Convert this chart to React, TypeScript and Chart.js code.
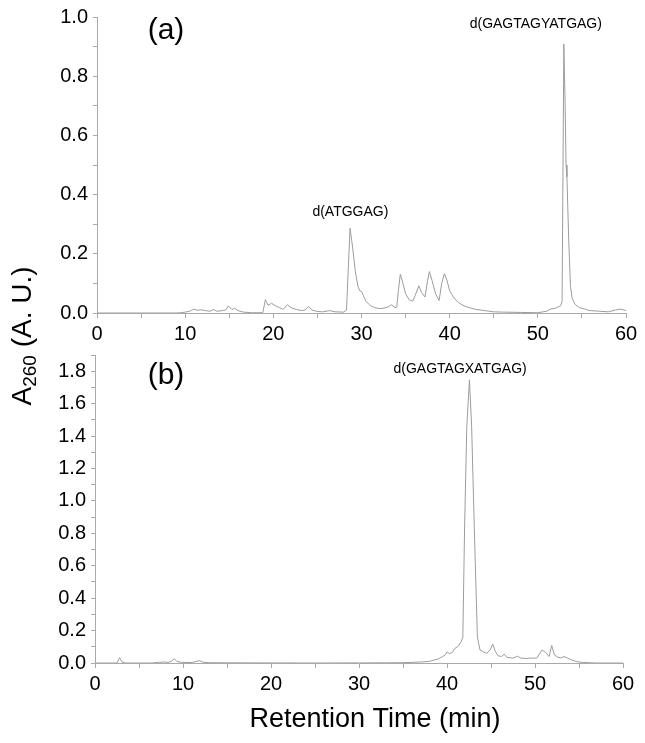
import React, { useEffect, useRef } from 'react';
import { Chart, registerables } from 'chart.js';
Chart.register(...registerables);

// ---------- data ----------
const timesA = [0, 5, 9.0, 9.5, 10.0, 10.5, 11.0, 11.4, 11.8, 12.3, 12.8, 13.2, 13.6, 14.2, 14.6, 14.9, 15.3, 15.6, 16.0, 16.6, 17.5, 18.8, 19.1, 19.4, 19.8, 20.2, 20.7, 21.1, 21.6, 22.0, 22.6, 23.2, 23.6, 24.0, 24.4, 25.0, 25.6, 26.4, 27.0, 28.0, 28.3, 28.5, 28.7, 29.0, 29.3, 29.6, 29.8, 30.0, 30.2, 30.5, 31.0, 31.5, 32.0, 32.5, 33.0, 33.4, 33.8, 34.0, 34.2, 34.4, 34.7, 35.0, 35.4, 35.8, 36.1, 36.5, 36.8, 37.2, 37.5, 37.7, 38.0, 38.4, 38.8, 39.1, 39.4, 39.7, 40.0, 40.5, 41.0, 41.5, 42.0, 43.0, 44.0, 45.0, 46.0, 48.0, 50.0, 51.0, 51.5, 52.0, 52.6, 52.75, 52.95, 53.1, 53.2, 53.3, 53.5, 53.7, 53.9, 54.2, 54.7, 55.3, 55.6, 56.0, 57.0, 58.0, 58.8, 59.3, 59.8, 60.0];
const absA = [0, 0, 0, 0.001, 0.003, 0.006, 0.013, 0.009, 0.011, 0.008, 0.006, 0.012, 0.006, 0.008, 0.01, 0.024, 0.012, 0.016, 0.008, 0.003, 0.001, 0.001, 0.045, 0.026, 0.033, 0.025, 0.018, 0.012, 0.028, 0.018, 0.012, 0.008, 0.01, 0.022, 0.01, 0.005, 0.004, 0.008, 0.004, 0.003, 0.01, 0.15, 0.286, 0.22, 0.14, 0.09, 0.075, 0.073, 0.06, 0.04, 0.025, 0.018, 0.015, 0.016, 0.02, 0.028, 0.018, 0.02, 0.08, 0.131, 0.1, 0.065, 0.045, 0.04, 0.06, 0.092, 0.07, 0.054, 0.11, 0.14, 0.11, 0.065, 0.042, 0.1, 0.133, 0.11, 0.075, 0.05, 0.035, 0.026, 0.02, 0.012, 0.008, 0.004, 0.003, 0.002, 0.001, 0.006, 0.014, 0.016, 0.025, 0.04, 0.909, 0.7, 0.5, 0.46, 0.25, 0.09, 0.05, 0.03, 0.018, 0.014, 0.01, 0.008, 0.006, 0.004, 0.01, 0.013, 0.01, 0.008];

const timesB = [0, 2.5, 2.8, 3.1, 3.5, 6.5, 7.2, 7.8, 8.3, 8.7, 9.0, 9.3, 9.8, 11.0, 11.9, 12.3, 13.0, 15.0, 25.0, 33.0, 35.0, 37.0, 38.0, 39.0, 39.5, 39.8, 40.0, 40.3, 40.6, 40.9, 41.3, 41.6, 41.8, 42.0, 42.25, 42.55, 42.8, 43.1, 43.45, 43.75, 44.1, 44.5, 44.9, 45.2, 45.5, 45.8, 46.2, 46.5, 46.8, 47.5, 48.0, 48.4, 49.0, 49.5, 50.2, 50.8, 51.2, 51.6, 51.9, 52.2, 52.6, 53.0, 53.3, 53.7, 54.2, 54.8, 55.5, 57.0, 60.0];
const absB = [0, 0, 0.033, 0.004, 0, 0, 0.004, 0.006, 0.004, 0.01, 0.027, 0.01, 0.004, 0.003, 0.015, 0.004, 0.002, 0.001, 0, 0.001, 0.002, 0.006, 0.01, 0.025, 0.04, 0.05, 0.068, 0.058, 0.065, 0.09, 0.105, 0.13, 0.16, 0.84, 1.46, 1.747, 1.46, 0.84, 0.16, 0.08, 0.07, 0.06, 0.08, 0.116, 0.07, 0.045, 0.04, 0.055, 0.035, 0.03, 0.042, 0.03, 0.028, 0.03, 0.03, 0.08, 0.065, 0.04, 0.108, 0.05, 0.035, 0.032, 0.04, 0.03, 0.018, 0.008, 0.003, 0, 0];

const annotTextA = ['d(ATGGAG)', 'd(GAGTAGYATGAG)'];
const annotXA = [28.74, 49.77];
const annotYA = [0.34, 0.976];
const annotTextB = ['d(GAGTAGXATGAG)'];
const annotXB = [41.49];
const annotYB = [1.815];

const panelLabels = ['(a)', '(b)'];
const xTitle = 'Retention Time (min)';
const yTitleMain = 'A';
const yTitleSub = '260';
const yTitleRest = ' (A. U.)';

const FONT = '"Liberation Sans", Arial, Helvetica, sans-serif';
const AXIS_COLOR = '#a9a9a9';
const LINE_COLOR = '#9c9c9c';

type PanelCfg = {
  times: number[];
  values: number[];
  yMax: number;
  yFont: number;
  pad: { left: number; top: number; right: number; bottom: number };
  yWidth: number;
  annotText: string[];
  annotX: number[];
  annotY: number[];
  panelLabel: string;
  panelPos: [number, number];
  top: boolean;
};

function makeChart(canvas: HTMLCanvasElement, cfg: PanelCfg) {
  const points = cfg.times.map((t, i) => ({ x: t, y: cfg.values[i] }));
  const textPlugin = {
    id: 'texts' + (cfg.top ? 'A' : 'B'),
    afterDraw(chart: any) {
      const ctx = chart.ctx as CanvasRenderingContext2D;
      const xs = chart.scales.x;
      const ys = chart.scales.y;
      ctx.save();
      ctx.fillStyle = '#000';
      ctx.textAlign = 'center';
      ctx.textBaseline = 'middle';
      // panel label
      ctx.font = `30px ${FONT}`;
      ctx.fillText(cfg.panelLabel, cfg.panelPos[0], cfg.panelPos[1]);
      // annotations
      ctx.font = `14px ${FONT}`;
      cfg.annotText.forEach((txt, i) => {
        ctx.fillText(txt, xs.getPixelForValue(cfg.annotX[i]), ys.getPixelForValue(cfg.annotY[i]));
      });
      if (cfg.top) {
        // shared y title (rotated)
        ctx.translate(21, 336);
        ctx.rotate(-Math.PI / 2);
        const big = `28px ${FONT}`;
        const small = `19px ${FONT}`;
        ctx.font = big;
        const wA = ctx.measureText(yTitleMain).width;
        const wR = ctx.measureText(yTitleRest).width;
        ctx.font = small;
        const wS = ctx.measureText(yTitleSub).width;
        const total = wA + wS + wR;
        let x0 = -total / 2;
        ctx.textAlign = 'left';
        ctx.textBaseline = 'alphabetic';
        ctx.font = big;
        ctx.fillText(yTitleMain, x0, 10);
        x0 += wA;
        ctx.font = small;
        ctx.fillText(yTitleSub, x0, 15);
        x0 += wS;
        ctx.font = big;
        ctx.fillText(yTitleRest, x0, 10);
      } else {
        ctx.font = `27px ${FONT}`;
        ctx.fillText(xTitle, 375, 720);
      }
      ctx.restore();
    },
  };

  return new Chart(canvas, {
    type: 'scatter',
    data: {
      datasets: [
        {
          data: points,
          showLine: true,
          borderColor: LINE_COLOR,
          borderWidth: 1,
          pointRadius: 0,
          tension: 0,
          fill: false,
        },
      ],
    },
    options: {
      responsive: false,
      animation: false,
      events: [],
      layout: { padding: cfg.pad },
      plugins: { legend: { display: false }, tooltip: { enabled: false }, title: { display: false } },
      scales: {
        x: {
          type: 'linear',
          min: 0,
          max: 60,
          afterFit: (s: any) => {
            s.height = 30;
          },
          ticks: {
            stepSize: 5,
            autoSkip: false,
            maxRotation: 0,
            padding: 4,
            color: '#000',
            font: { family: FONT, size: 20 },
            callback: (v: any) => (Math.round(v) % 10 === 0 ? String(Math.round(v)) : ''),
          },
          grid: { drawOnChartArea: false, drawTicks: true, tickLength: 5, color: AXIS_COLOR },
          border: { display: true, color: AXIS_COLOR },
        },
        y: {
          type: 'linear',
          min: 0,
          max: cfg.yMax,
          afterFit: (s: any) => {
            s.width = cfg.yWidth;
          },
          ticks: {
            stepSize: 0.1,
            includeBounds: false,
            autoSkip: false,
            padding: 5,
            color: '#000',
            font: { family: FONT, size: cfg.yFont },
            callback: (v: any) => (Math.round(v * 10) % 2 === 0 ? Number(v).toFixed(1) : ''),
          },
          grid: { drawOnChartArea: false, drawTicks: true, tickLength: 4, color: AXIS_COLOR },
          border: { display: true, color: AXIS_COLOR },
        },
      },
    },
    plugins: [textPlugin],
  });
}

export default function App() {
  const refA = useRef<HTMLCanvasElement>(null);
  const refB = useRef<HTMLCanvasElement>(null);

  useEffect(() => {
    if (!refA.current || !refB.current) return;
    const a = makeChart(refA.current, {
      times: timesA,
      values: absA,
      yMax: 1.0,
      yFont: 20,
      pad: { left: 0, top: 16, right: 19, bottom: 400 },
      yWidth: 97,
      annotText: annotTextA,
      annotX: annotXA,
      annotY: annotYA,
      panelLabel: panelLabels[0],
      panelPos: [166, 31],
      top: true,
    });
    const b = makeChart(refB.current, {
      times: timesB,
      values: absB,
      yMax: 1.9,
      yFont: 20,
      pad: { left: 0, top: 355, right: 22, bottom: 50 },
      yWidth: 95,
      annotText: annotTextB,
      annotX: annotXB,
      annotY: annotYB,
      panelLabel: panelLabels[1],
      panelPos: [166, 376],
      top: false,
    });
    return () => {
      a.destroy();
      b.destroy();
    };
  }, []);

  const cstyle: React.CSSProperties = { position: 'absolute', left: 0, top: 0, width: 645, height: 743 };
  return (
    <div style={{ position: 'fixed', left: 0, top: 0, width: 645, height: 743, background: '#fff' }}>
      <canvas ref={refA} width={645} height={743} style={cstyle} />
      <canvas ref={refB} width={645} height={743} style={cstyle} />
    </div>
  );
}
